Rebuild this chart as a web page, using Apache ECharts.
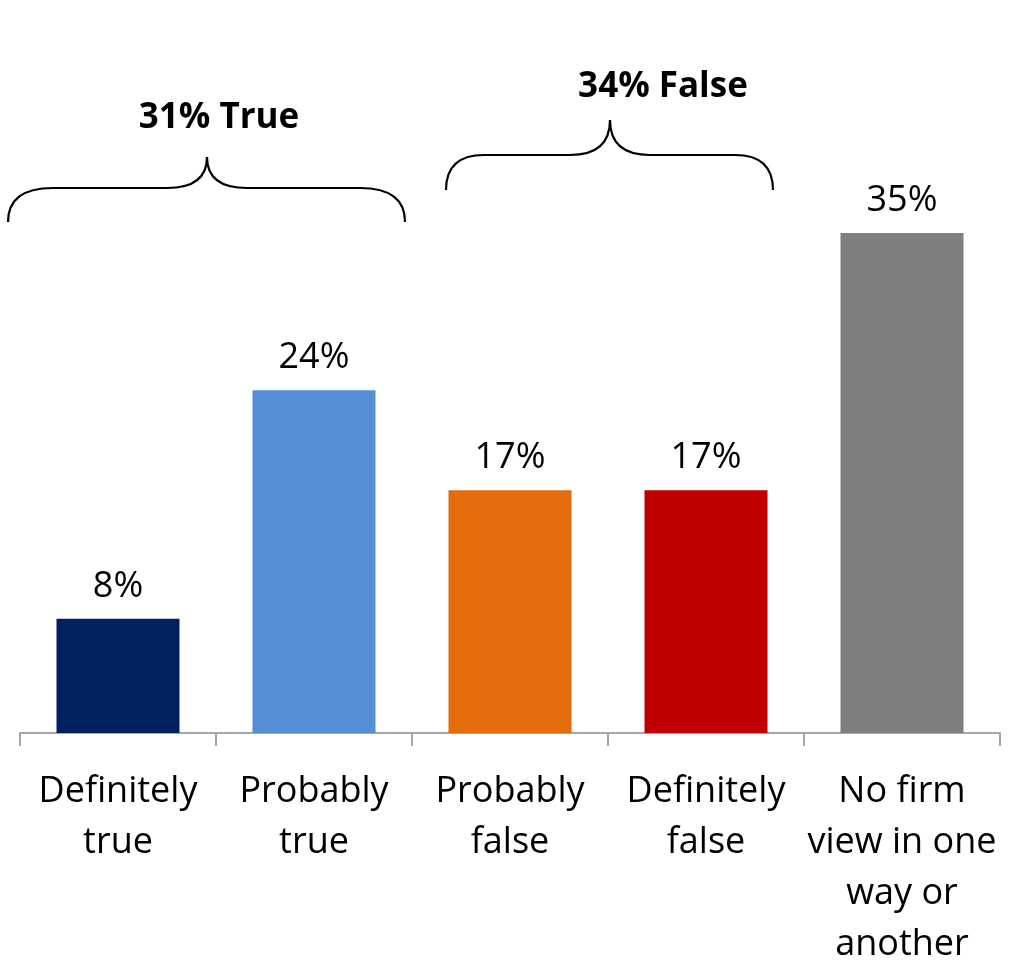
<!DOCTYPE html>
<html>
<head>
<meta charset="utf-8">
<script src="https://cdn.jsdelivr.net/npm/echarts@6/dist/echarts.min.js"></script>
<style>
  html, body { margin: 0; padding: 0; background: #fff; }
  #chart { width: 1010px; height: 966px; }
</style>
</head>
<body>
<div id="chart"></div>
<script>
const categories = ['Definitely\ntrue', 'Probably\ntrue', 'Probably\nfalse', 'Definitely\nfalse', 'No firm\nview in one\nway or\nanother'];
const values = [8, 24, 17, 17, 35];
const barColors = ['#002060', '#558ED5', '#E46C0A', '#C00000', '#7F7F7F'];
const groupLabels = ['31% True', '34% False'];

const FONT = '"Open Sans", sans-serif';

// curly brace made of two end curves, two straight runs and a pointed tip
function brace(x0, x1, xm, yb, yh, yt, r, r2) {
    const s = { stroke: '#000', lineWidth: 2.2, fill: null };
    return [
        { type: 'bezierCurve', shape: { x1: x0, y1: yb, cpx1: x0, cpy1: yh, x2: x0 + r, y2: yh }, style: s },
        { type: 'line', shape: { x1: x0 + r, y1: yh, x2: xm - r2, y2: yh }, style: s },
        { type: 'bezierCurve', shape: { x1: xm - r2, y1: yh, cpx1: xm, cpy1: yh, x2: xm, y2: yt }, style: s },
        { type: 'bezierCurve', shape: { x1: xm, y1: yt, cpx1: xm, cpy1: yh, x2: xm + r2, y2: yh }, style: s },
        { type: 'line', shape: { x1: xm + r2, y1: yh, x2: x1 - r, y2: yh }, style: s },
        { type: 'bezierCurve', shape: { x1: x1 - r, y1: yh, cpx1: x1, cpy1: yh, x2: x1, y2: yb }, style: s }
    ];
}

const chart = echarts.init(document.getElementById('chart'));

const option = {
    animation: false,
    backgroundColor: '#fff',
    grid: {
        left: 20,
        right: 10,
        top: 161.6,
        bottom: 233,
        containLabel: false,
        outerBoundsMode: 'none'
    },
    xAxis: {
        type: 'category',
        data: categories,
        axisLine: { lineStyle: { color: '#A6A6A6', width: 2 } },
        axisTick: { show: true, length: 13, lineStyle: { color: '#A6A6A6', width: 2 } },
        axisLabel: {
            interval: 0,
            margin: 33,
            color: '#000',
            fontFamily: FONT,
            fontSize: 36,
            lineHeight: 51
        }
    },
    yAxis: {
        type: 'value',
        min: 0,
        max: 40,
        show: false,
        splitLine: { show: false }
    },
    series: [{
        type: 'bar',
        barWidth: 123,
        data: values.map((v, i) => ({ value: v, itemStyle: { color: barColors[i] } })),
        label: {
            show: true,
            position: 'top',
            distance: 14,
            color: '#000',
            fontFamily: FONT,
            fontSize: 36,
            formatter: p => p.value + '%'
        }
    }],
    graphic: [
        ...brace(8, 405, 207, 222, 188, 157, 45, 40),
        ...brace(446, 773, 610, 190, 155, 120, 38, 40),
        {
            type: 'text', x: 219, y: 118,
            style: { text: groupLabels[0], font: 'bold 35px ' + FONT, fill: '#000', textAlign: 'center', textVerticalAlign: 'middle' }
        },
        {
            type: 'text', x: 663, y: 87,
            style: { text: groupLabels[1], font: 'bold 35px ' + FONT, fill: '#000', textAlign: 'center', textVerticalAlign: 'middle' }
        }
    ]
};

chart.setOption(option);
</script>
</body>
</html>
